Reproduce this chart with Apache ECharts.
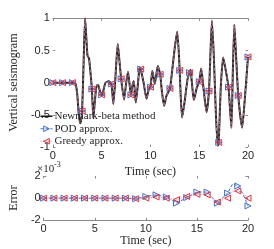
<!DOCTYPE html>
<html><head><meta charset="utf-8">
<script src="https://cdn.jsdelivr.net/npm/echarts@6/dist/echarts.min.js"></script>
<style>html,body{margin:0;padding:0;background:#fff}#c{width:274px;height:249px}</style>
</head><body><div id="c"></div>
<script>
// Top panel: dense time axis and Newmark-beta response
const tTop = [0,1,2,2.2,2.35,2.5,2.65,2.8,2.9,3,3.15,3.3,3.4,3.55,3.7,3.8,4,4.15,4.3,4.5,4.65,4.8,5,5.15,5.4,5.7,6,6.2,6.4,6.65,6.8,7,7.3,7.5,7.7,8,8.15,8.3,8.5,8.7,8.9,9,9.3,9.6,9.8,10,10.2,10.45,10.75,11,11.15,11.4,11.65,12,12.2,12.5,12.75,13,13.1,13.25,13.5,13.8,14,14.1,14.25,14.45,14.75,15,15.2,15.45,15.75,16,16.15,16.3,16.5,16.7,16.9,17,17.2,17.45,17.65,18,18.3,18.45,18.6,18.75,19,19.4,19.65,20];
const newmarkVals = [0,0,0,0,-0.03,-0.18,-0.48,-0.63,-0.58,-0.44,0.3,1.0,0.78,0.42,0.38,0.25,-0.1,-0.55,-0.3,-0.04,-0.04,-0.12,-0.19,-0.14,0,0.02,-0.02,-0.33,0.05,0.6,0.38,0.06,-0.26,-0.02,0.17,-0.19,-0.05,0.02,-0.31,-0.05,0.24,0.21,0.0,-0.25,-0.12,-0.07,0.18,-0.02,0.26,0.13,-0.1,-0.36,-0.2,-0.09,0.15,0.55,0.79,0.19,-0.2,-0.54,-0.3,0.05,0.155,0.2,0.0,-0.27,-0.08,0.015,0.22,-0.1,-0.46,-0.13,0.45,0.96,0.4,-0.45,-0.98,-0.93,-0.1,0.39,0.25,-0.07,-0.7,0.2,0.9,0.5,-0.2,-0.7,-0.3,0.4];
// Marker samples (t = 0..20)
const podTop    = [0,0,0,-0.44,-0.1,-0.19,-0.02,0.06,-0.19,0.21,-0.07,0.13,-0.09,0.19,0.155,0.015,-0.13,-0.93,-0.07,-0.2,0.4];
const greedyTop = [0,0,0,-0.44,-0.1,-0.19,-0.02,0.06,-0.19,0.21,-0.07,0.13,-0.09,0.19,0.155,0.015,-0.13,-0.93,-0.07,-0.2,0.4];
// Bottom panel: error (x 1e-3)
const tErr = [0,1,2,3,4,5,6,7,8,9,10,11,12,13,14,15,16,17,18,18.5,19,19.5,20];
const errPod    = [0,0,0,0,0,0,0,0,0,-0.05,0.15,0.3,0.1,-0.45,0.05,0.55,0.55,-0.45,0.45,1.3,1.1,0.4,-0.7];
const errGreedy = [0,0,0,0,0,0,0,0,0,-0.05,0,0.1,0,-0.13,0.15,0.35,0.3,-0.35,0,0.6,0.65,0.5,0];

const BLUE = '#3d6fcf', RED = '#e4333d', GRAY = '#8a8a8a', TXT = '#262626';
const SERIF = 'Liberation Serif', SANS = 'Liberation Sans';
const HOLLOW = 'rgba(255,255,255,0)';

function approxData(vals, markers) {
  return tTop.map((t, i) => Number.isInteger(t)
    ? {value: [t, markers[t]]}
    : {value: [t, vals[i]], symbol: 'none'});
}
function errData(vals) {
  return tErr.map((t, i) => Number.isInteger(t) ? {value: [t, vals[i]]} : {value: [t, vals[i]], symbol: 'none'});
}

const tickIn = {show: true, inside: true, length: 2.5, lineStyle: {color: GRAY, width: 1}};
function xAx(grid, pos, opts) {
  return Object.assign({type: 'value', gridIndex: grid, position: pos, min: 0, max: 20, interval: 5,
    splitLine: {show: false}, axisTick: tickIn, axisLine: {show: false, onZero: false},
    axisLabel: {show: false}}, opts);
}
function yAx(grid, pos, mn, mx, iv, opts) {
  return Object.assign({type: 'value', gridIndex: grid, position: pos, min: mn, max: mx, interval: iv,
    splitLine: {show: false}, axisTick: tickIn, axisLine: {show: false, onZero: false},
    axisLabel: {show: false}}, opts);
}
const lbl = {show: true, margin: 3, fontFamily: SANS, fontSize: 11, color: TXT};
const nameStyle = {fontFamily: SERIF, fontSize: 12, color: TXT};
const lineOn = {show: true, onZero: false, lineStyle: {color: GRAY, width: 1}};

const chart = echarts.init(document.getElementById('c'), null, {renderer: 'canvas'});
chart.setOption({
  animation: false,
  backgroundColor: '#fff',
  graphic: [
    {type: 'text', left: 37, top: 164, style: {text: '×10', font: '11px "Liberation Serif"', fill: TXT}},
    {type: 'text', left: 54, top: 161, style: {text: '-3', font: '8px "Liberation Serif"', fill: TXT}}
  ],
  legend: {
    left: 40, top: 110, orient: 'vertical', itemGap: 0, itemWidth: 12, itemHeight: 7,
    padding: 0,
    data: [
      {name: 'Newmark-beta method', icon: 'path://M0,0h24v3h-24z', itemStyle: {color: '#111'}},
      {name: 'POD approx.', itemStyle: {color: HOLLOW, borderColor: BLUE, borderWidth: 1},
        lineStyle: {color: BLUE, width: 1, type: [3, 2]}},
      {name: 'Greedy approx.', itemStyle: {color: HOLLOW, borderColor: RED, borderWidth: 1},
        lineStyle: {color: '#ee8088', width: 1, type: [1, 1.5]}}
    ],
    textStyle: {fontFamily: SERIF, fontSize: 11, color: TXT, lineHeight: 12.5, padding: [0,0,0,-3]}
  },
  grid: [
    {left: 35.5, top: 18.3, width: 212.5, height: 128.7},
    {left: 35.5, top: 176, width: 212.5, height: 44.3}
  ],
  xAxis: [
    xAx(0, 'bottom', {axisLabel: lbl, name: 'Time (sec)', nameLocation: 'middle', nameGap: 15, nameTextStyle: nameStyle}),
    xAx(0, 'top', {axisLine: lineOn}),
    xAx(1, 'bottom', {axisLine: lineOn, axisLabel: lbl,
      name: 'Time (sec)', nameLocation: 'middle', nameGap: 13, nameTextStyle: nameStyle}),
    xAx(1, 'top', {})
  ],
  yAxis: [
    yAx(0, 'left', -1, 1, 0.5, {axisLabel: lbl, name: 'Vertical seismogram', nameLocation: 'middle', nameGap: 24, nameTextStyle: nameStyle}),
    yAx(0, 'right', -1, 1, 0.5, {}),
    yAx(1, 'left', -2, 2, 2, {axisLabel: lbl, name: 'Error', nameLocation: 'middle', nameGap: 17, nameTextStyle: nameStyle}),
    yAx(1, 'right', -2, 2, 2, {})
  ],
  series: [
    {name: 'Newmark-beta method', type: 'line', xAxisIndex: 0, yAxisIndex: 0, smooth: 0.2,
      symbol: 'none', data: tTop.map((t, i) => [t, newmarkVals[i]]),
      lineStyle: {color: '#1a1a1a', width: 2}, itemStyle: {color: '#1a1a1a'}},
    {name: 'POD approx.', type: 'line', xAxisIndex: 0, yAxisIndex: 0, smooth: 0.2,
      symbol: 'triangle', symbolRotate: -90, symbolSize: 6, showSymbol: true, showAllSymbol: true,
      data: approxData(newmarkVals, podTop),
      lineStyle: {color: '#8c9bb8', width: 1, type: [3, 2]},
      itemStyle: {color: HOLLOW, borderColor: BLUE, borderWidth: 1}},
    {name: 'Greedy approx.', type: 'line', xAxisIndex: 0, yAxisIndex: 0, smooth: 0.2,
      symbol: 'triangle', symbolRotate: 90, symbolSize: 6, showSymbol: true, showAllSymbol: true,
      data: approxData(newmarkVals, greedyTop),
      lineStyle: {color: '#c0303a', width: 1, type: [1, 2]},
      itemStyle: {color: HOLLOW, borderColor: RED, borderWidth: 1}},
    {name: 'POD approx.', type: 'line', xAxisIndex: 2, yAxisIndex: 2,
      symbol: 'triangle', symbolRotate: -90, symbolSize: 6, showSymbol: true, showAllSymbol: true,
      data: errData(errPod),
      lineStyle: {color: BLUE, width: 1, type: [3, 2]},
      itemStyle: {color: HOLLOW, borderColor: BLUE, borderWidth: 1}},
    {name: 'Greedy approx.', type: 'line', xAxisIndex: 2, yAxisIndex: 2,
      symbol: 'triangle', symbolRotate: 90, symbolSize: 6, showSymbol: true, showAllSymbol: true,
      data: errData(errGreedy),
      lineStyle: {color: '#ee8088', width: 1, type: [1, 1.5]},
      itemStyle: {color: HOLLOW, borderColor: RED, borderWidth: 1}}
  ]
});
</script></body></html>
